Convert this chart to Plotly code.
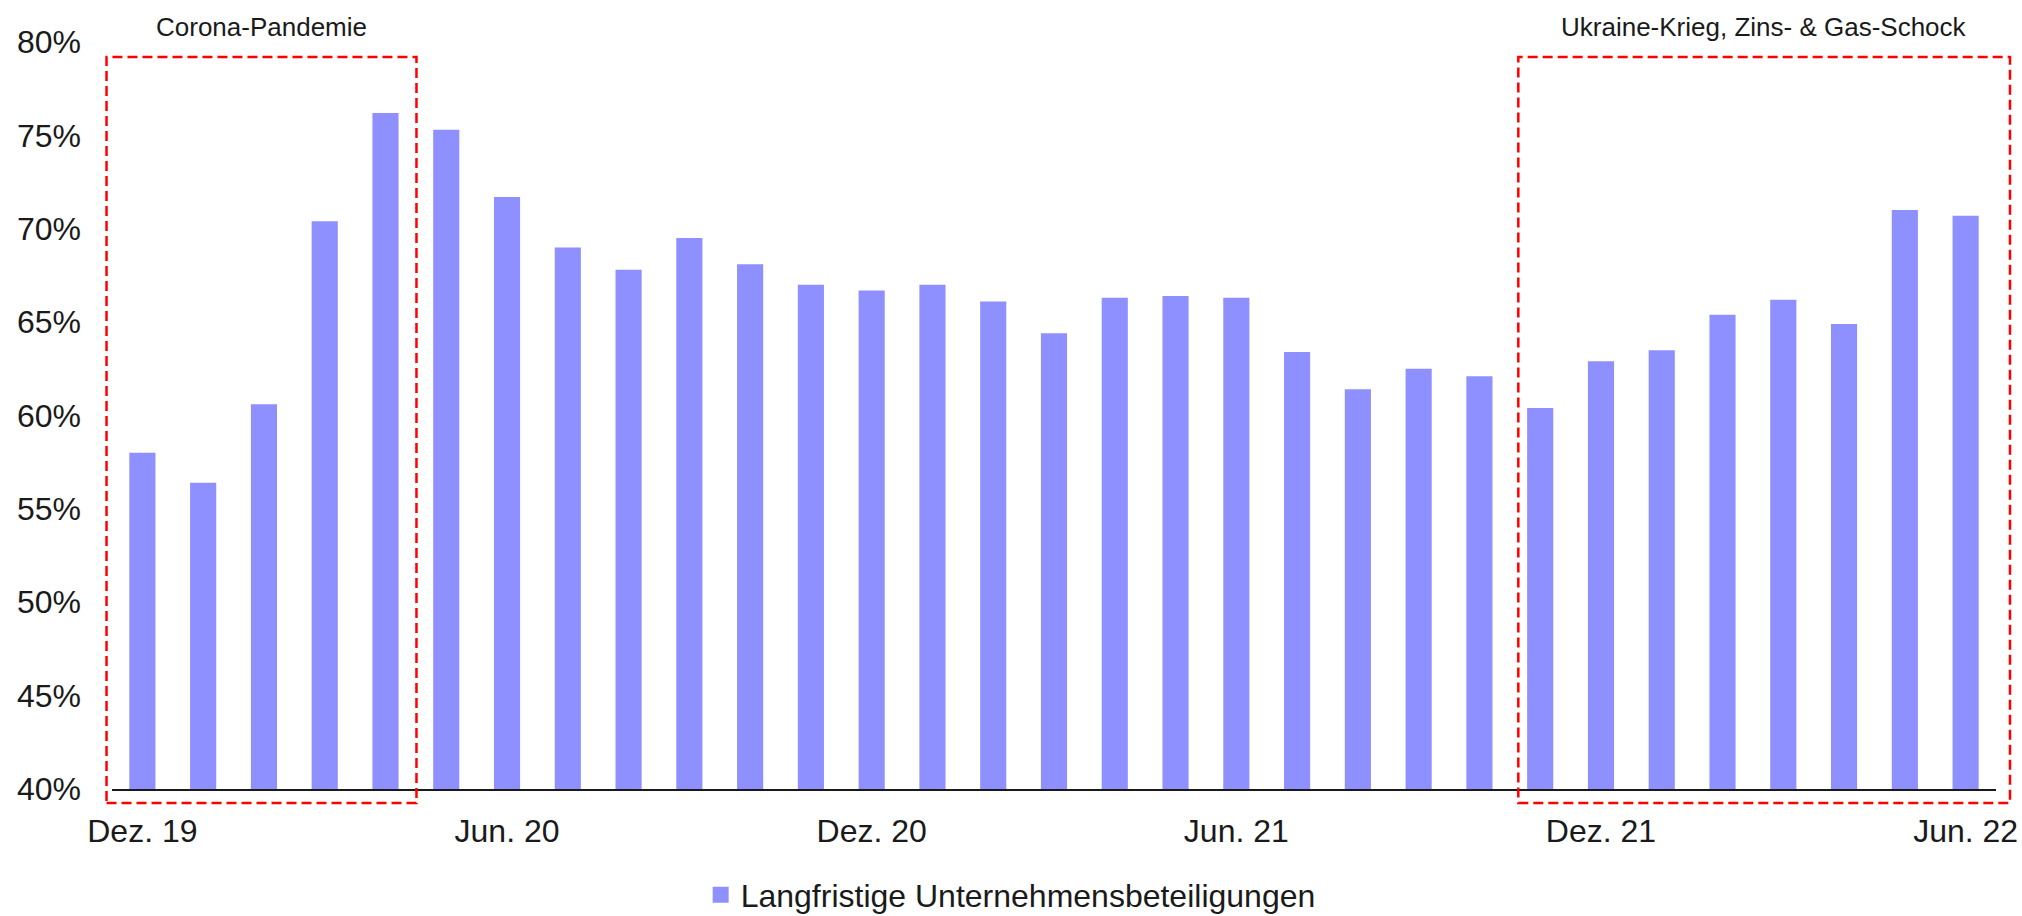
import plotly.graph_objects as go

# ---------------- data ----------------
months = ["Dez. 19", "Jan. 20", "Feb. 20", "Mär. 20", "Apr. 20", "Mai. 20", "Jun. 20",
          "Jul. 20", "Aug. 20", "Sep. 20", "Okt. 20", "Nov. 20", "Dez. 20", "Jan. 21",
          "Feb. 21", "Mär. 21", "Apr. 21", "Mai. 21", "Jun. 21", "Jul. 21", "Aug. 21",
          "Sep. 21", "Okt. 21", "Nov. 21", "Dez. 21", "Jan. 22", "Feb. 22", "Mär. 22",
          "Apr. 22", "Mai. 22", "Jun. 22"]
values = [58.0, 56.4, 60.6, 70.4, 76.2, 75.3, 71.7, 69.0, 67.8, 69.5, 68.1, 67.0, 66.7,
          67.0, 66.1, 64.4, 66.3, 66.4, 66.3, 63.4, 61.4, 62.5, 62.1, 60.4, 62.9, 63.5,
          65.4, 66.2, 64.9, 71.0, 70.7]
x_tick_labels = ["Dez. 19", "Jun. 20", "Dez. 20", "Jun. 21", "Dez. 21", "Jun. 22"]
y_ticks = [40, 45, 50, 55, 60, 65, 70, 75, 80]
y_tick_text = [f"{v}%" for v in y_ticks]
series_name = "Langfristige Unternehmensbeteiligungen"
period_labels = ["Corona-Pandemie", "Ukraine-Krieg, Zins- & Gas-Schock"]
period_start = ["Dez. 19", "Nov. 21"]
period_end = ["Apr. 20", "Jun. 22"]

# ---------------- style ----------------
FONT = "Liberation Sans"
BAR_COLOR = "#8F90FF"
W, H = 2022, 916
M_L, M_R, M_T, M_B = 112, 26, 42, 127
box_pad_left = [0.59, 0.36]
box_pad_right = [0.51, 0.73]

fig = go.Figure()
fig.add_trace(go.Bar(
    x=months, y=values, name=series_name, marker=dict(color=BAR_COLOR, line=dict(width=0)),
    showlegend=False, hoverinfo="x+y"))
# legend entry (larger square than the default bar swatch)
fig.add_trace(go.Scatter(
    x=[months[0]], y=[None], mode="markers", name=series_name,
    marker=dict(symbol="square", size=16, color=BAR_COLOR), showlegend=True))

n = len(months)


def cat_to_paper(idx):
    # category axis range is [-0.5, n-0.5]
    return (idx + 0.5) / n


shapes = []
annotations = []
for lbl, s, e, pl, pr in zip(period_labels, period_start, period_end, box_pad_left, box_pad_right):
    i0 = months.index(s) - pl
    i1 = months.index(e) + pr
    x0, x1 = cat_to_paper(i0), cat_to_paper(i1)
    shapes.append(dict(type="rect", xref="paper", yref="paper", x0=x0, x1=x1,
                       y0=-0.0187, y1=0.980,
                       line=dict(color="#FF0000", width=2.5, dash="10px,5px"),
                       fillcolor="rgba(0,0,0,0)", layer="above"))
    annotations.append(dict(text=lbl, xref="paper", yref="paper", x=(x0 + x1) / 2, y=1.02,
                            xanchor="center", yanchor="middle", showarrow=False,
                            font=dict(family=FONT, size=26, color="#1a1a1a")))

fig.update_layout(
    width=W, height=H,
    margin=dict(l=M_L, r=M_R, t=M_T, b=M_B, pad=0, autoexpand=False),
    paper_bgcolor="white", plot_bgcolor="white",
    font=dict(family=FONT, size=32, color="#1a1a1a"),
    bargap=0.57,
    shapes=shapes,
    annotations=annotations,
    legend=dict(orientation="h", x=0.477, xanchor="center", y=-0.142, yanchor="middle",
                font=dict(family=FONT, size=32, color="#1a1a1a"), itemwidth=30),
    xaxis=dict(type="category", range=[-0.5, n - 0.5], tickmode="array",
               tickvals=x_tick_labels, ticktext=x_tick_labels, showgrid=False,
               showline=True, linecolor="#1a1a1a", linewidth=2, ticks="",
               ticklabelstandoff=13, zeroline=False, fixedrange=True),
    yaxis=dict(range=[40, 80], tickmode="array", tickvals=y_ticks, ticktext=y_tick_text,
               showgrid=False, showline=False, zeroline=False, ticks="",
               ticklabelstandoff=30, fixedrange=True),
)

fig.write_html("out.html")
